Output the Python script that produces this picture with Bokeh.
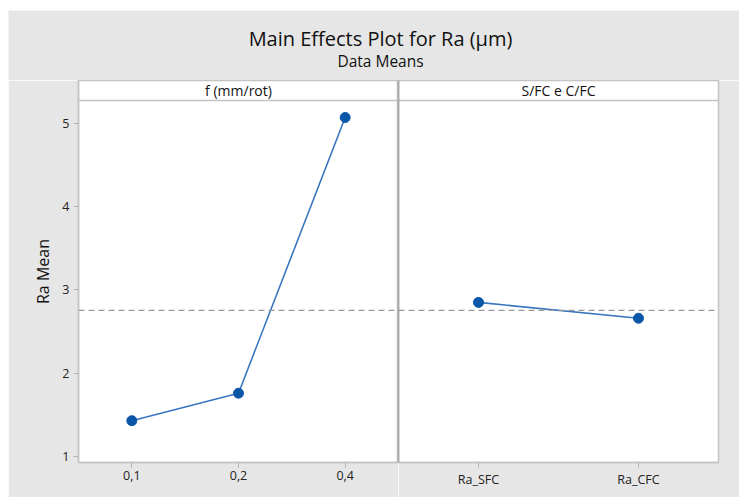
from bokeh.plotting import figure
from bokeh.models import (FactorRange, Range1d, Span, Label, SingleIntervalTicker, ColumnDataSource)
from bokeh.layouts import column, row
from bokeh.embed import file_html
from bokeh.resources import INLINE

# ---- data ----
f_levels = ["0,1", "0,2", "0,4"]
f_means = [1.43, 1.76, 5.07]
s_levels = ["Ra_SFC", "Ra_CFC"]
s_means = [2.85, 2.66]
overall_mean = sum(f_means) / len(f_means)

title_text = "Main Effects Plot for Ra (µm)"
subtitle_text = "Data Means"
panel_titles = ["f (mm/rot)", "S/FC e C/FC"]
y_label = "Ra Mean"

# ---- style ----
BG = "#e6e6e6"
FRAME = "#c4c4c4"
DIVIDER = "#8c8c8c"
LINE = "#3a76c0"
MARK = "#0a57a8"
FONT = "Open Sans"
TXT = "#222222"

Y0, Y_PLOT_TOP, Y_HEAD_TOP = 0.928, 5.274, 5.514
PANEL_H = 417

def panel(levels, means, title, width, left_border, right_border, show_y):
    p = figure(x_range=FactorRange(*levels), y_range=Range1d(Y0, Y_HEAD_TOP),
               width=width, height=PANEL_H, output_backend="svg", toolbar_location=None,
               min_border_left=left_border, min_border_right=right_border,
               min_border_top=0, min_border_bottom=35)
    p.background_fill_color = "white"
    p.border_fill_color = BG
    p.outline_line_color = FRAME
    p.outline_line_width = 1.5
    p.xgrid.visible = False
    p.ygrid.visible = False
    src = ColumnDataSource(dict(x=levels, y=means))
    p.line("x", "y", source=src, line_color=LINE, line_width=1.6)
    p.scatter("x", "y", source=src, size=10, fill_color=MARK, line_color=MARK)
    p.add_layout(Span(location=overall_mean, dimension="width", line_color="#9a9a9a",
                      line_dash="6 4", line_width=1.2))
    p.add_layout(Span(location=Y_PLOT_TOP, dimension="width", line_color=FRAME, line_width=1.5))
    p.add_layout(Label(x=len(levels) / 2, y=(Y_PLOT_TOP + Y_HEAD_TOP) / 2, text=title,
                       text_align="center", text_baseline="middle", text_font=FONT,
                       text_font_size="14px", text_color="#111111"))
    xa = p.xaxis[0]
    xa.axis_line_color = FRAME
    xa.axis_line_width = 1.5
    xa.major_tick_line_color = "#b4b4b4"
    xa.major_tick_in = 0
    xa.major_tick_out = 5
    xa.major_label_text_font = FONT
    xa.major_label_text_font_size = "12.5px"
    xa.major_label_text_color = TXT
    xa.major_label_standoff = 3
    ya = p.yaxis[0]
    if show_y:
        ya.ticker = SingleIntervalTicker(interval=1)
        ya.minor_tick_line_color = None
        ya.axis_line_color = FRAME
        ya.axis_line_width = 1.5
        ya.major_tick_line_color = "#b4b4b4"
        ya.major_tick_in = 0
        ya.major_tick_out = 5
        ya.major_label_text_font = FONT
        ya.major_label_text_font_size = "12.5px"
        ya.major_label_text_color = TXT
        ya.major_label_standoff = 4
        ya.axis_label = y_label
        ya.axis_label_text_font = FONT
        ya.axis_label_text_font_size = "16px"
        ya.axis_label_text_font_style = "normal"
        ya.axis_label_text_color = "#111111"
        ya.axis_label_standoff = 5
    else:
        ya.visible = False
    return p

left = panel(f_levels, f_means, panel_titles[0], 390, 70, 0, True)
left.add_layout(Span(location=len(f_levels), dimension="height", line_color=DIVIDER, line_width=1.5))
right = panel(s_levels, s_means, panel_titles[1], 341, 0, 21, False)
right.add_layout(Span(location=0, dimension="height", line_color=DIVIDER, line_width=1.5))

head = figure(width=731, height=70, x_range=Range1d(0, 731), y_range=Range1d(0, 70),
              output_backend="svg", toolbar_location=None, min_border=0)
head.axis.visible = False
head.grid.visible = False
head.outline_line_color = None
head.background_fill_color = BG
head.border_fill_color = BG
head.add_layout(Label(x=372, y=42, text=title_text, text_align="center", text_baseline="middle",
                      text_font=FONT, text_font_size="20px", text_color="#111111"))
head.add_layout(Label(x=372, y=20, text=subtitle_text, text_align="center", text_baseline="middle",
                      text_font=FONT, text_font_size="15.5px", text_color="#111111"))

layout = column(head, row(left, right, spacing=0), spacing=0, margin=(10, 0, 0, 8))
open("out.html", "w").write(file_html(layout, INLINE))
